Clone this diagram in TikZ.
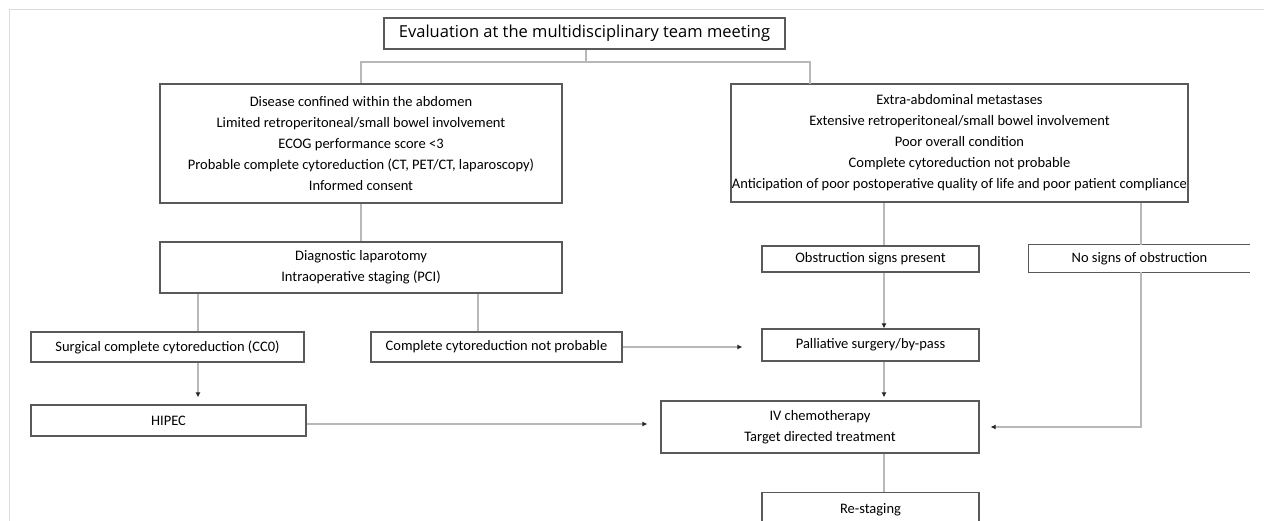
\documentclass[tikz,border=0pt]{standalone}
\usepackage{fontspec}
\setmainfont{Carlito}
\newfontfamily\topfont{Open Sans}
\usetikzlibrary{arrows.meta,shadows}
\begin{document}
\begin{tikzpicture}[x=1pt,y=-1pt,
  box/.style={draw=black!65,line width=1.2pt,fill=white,inner sep=0pt,align=center,
    font=\fontsize{14.5}{21}\selectfont,
    drop shadow={shadow xshift=1.2pt,shadow yshift=-1.2pt,opacity=0.18,fill=black}},
  openbox/.style={inner sep=0pt,align=center,font=\fontsize{14.5}{21}\selectfont},
  boxline/.style={draw=black!65,line width=1.2pt},
  conn/.style={draw=black!28,line width=1.2pt},
  arr/.style={conn,-{Latex[length=5pt,width=5pt,color=black!85]}},
  frame/.style={draw=black!14,line width=1pt}]
\useasboundingbox (0,0) rectangle (1264,521);
\clip (0,0) rectangle (1264,521);
\draw[frame] (9,521) -- (9,10) -- (1264,10);

\node[box,minimum width=401pt,minimum height=31pt,font=\topfont\fontsize{16.5}{19}\selectfont] (top) at (584.5,33.5) {Evaluation at the multidisciplinary team meeting};

\node[box,minimum width=402pt,minimum height=119pt] (A) at (361,143.5)
 {Disease confined within the abdomen\\Limited retroperitoneal/small bowel involvement\\ECOG performance score {<}3\\Probable complete cytoreduction (CT, PET/CT, laparoscopy)\\Informed consent};
\node[box,minimum width=457pt,minimum height=118pt] (B) at (959.5,143)
 {Extra-abdominal metastases\\Extensive retroperitoneal/small bowel involvement\\Poor overall condition\\Complete cytoreduction not probable\\Anticipation of poor postoperative quality of life and poor patient compliance};

\node[box,minimum width=402pt,minimum height=51pt] (C) at (361,267.5)
 {Diagnostic laparotomy\\Intraoperative staging (PCI)};
\node[box,minimum width=273pt,minimum height=30pt] (D) at (167.5,347) {Surgical complete cytoreduction (CC0)};
\node[box,minimum width=251pt,minimum height=30pt] (E) at (496.5,347) {Complete cytoreduction not probable};
\node[box,minimum width=217pt,minimum height=26pt] (F) at (870.5,259) {Obstruction signs present};
\node[openbox,minimum width=221pt,minimum height=27pt] (G) at (1139.5,258.5) {No signs of obstruction};
\draw[boxline] (G.north east) -- (G.north west) -- (G.south west) -- (G.south east);
\node[box,minimum width=217pt,minimum height=32pt] (H) at (870.5,345) {Palliative surgery/by-pass};
\node[box,minimum width=318pt,minimum height=52pt] (I) at (820,427)
 {IV chemotherapy\\Target directed treatment};
\node[box,minimum width=275pt,minimum height=31pt] (J) at (168.5,420.5) {HIPEC};
\node[box,minimum width=217pt,minimum height=34pt,anchor=north] (K) at (870.5,492) {Re-staging};

\coordinate (j1) at (586,62);
\coordinate (bx) at (810,84);
\coordinate (dx) at (198,0);
\coordinate (ex) at (478,0);
\coordinate (fx) at (884,0);
\coordinate (gx) at (1141,0);
\coordinate (gy) at (0,427);
\coordinate (jy) at (0,424);

\draw[conn] (top.south -| j1) -- (j1) -| (A.north);
\draw[conn] (j1) -| (bx);
\draw[conn] (A.south) -- (C.north);
\draw[conn] (C.south -| dx) -- (D.north -| dx);
\draw[conn] (C.south -| ex) -- (E.north -| ex);
\draw[arr,shorten >=7pt] (D.south -| dx) -- (J.north -| dx);
\draw[conn] (B.south -| fx) -- (F.north -| fx);
\draw[conn] (B.south -| gx) -- (G.north -| gx);
\draw[arr] (F.south -| fx) -- (H.north -| fx);
\draw[arr,shorten >=3pt] (H.south -| fx) -- (I.north -| fx);
\draw[conn] (I.south -| fx) -- (K.north -| fx);
\draw[arr,shorten >=19pt] (E.east) -- (E.east -| H.west);
\draw[arr,shorten >=13pt] (J.east |- jy) -- (I.west |- jy);
\draw[arr,shorten >=11pt] (G.south -| gx) |- (I.east |- gy);
\end{tikzpicture}
\end{document}
